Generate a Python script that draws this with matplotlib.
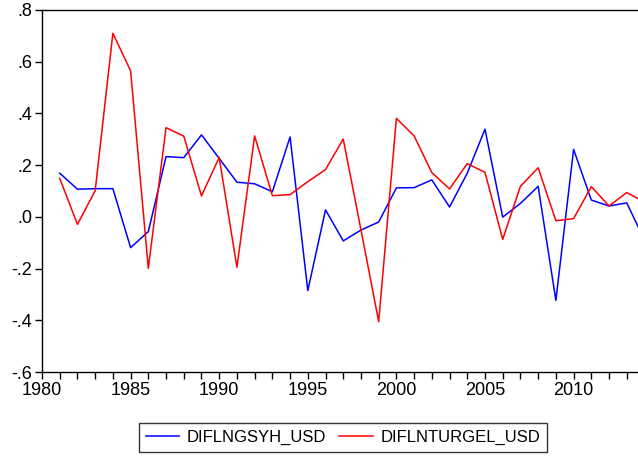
import matplotlib
matplotlib.use("Agg")
import matplotlib.pyplot as plt
from matplotlib.ticker import MultipleLocator, FuncFormatter

years = list(range(1981, 2015))
difln_gsyh = [0.169, 0.107, 0.109, 0.109, -0.119, -0.057, 0.233, 0.229, 0.317, 0.226,
              0.134, 0.128, 0.097, 0.309, -0.285, 0.027, -0.093, -0.051, -0.020, 0.112,
              0.113, 0.143, 0.038, 0.169, 0.339, -0.001, 0.052, 0.118, -0.323, 0.261,
              0.065, 0.042, 0.054, -0.090]
difln_turgel = [0.149, -0.029, 0.101, 0.710, 0.565, -0.199, 0.345, 0.312, 0.081, 0.230,
                -0.195, 0.313, 0.082, 0.086, 0.136, 0.183, 0.301, -0.050, -0.405, 0.381,
                0.313, 0.171, 0.108, 0.206, 0.172, -0.087, 0.118, 0.190, -0.015, -0.007,
                0.117, 0.042, 0.094, 0.057]

plt.rcParams['font.family'] = ['Liberation Sans', 'DejaVu Sans']

fig = plt.figure(figsize=(6.38, 4.57), dpi=100)
W, H = 638, 457
# right edge of the plot runs past the picture, as in the reference
x_end = 2014.5
x0, x1, y_top, y_bot = 42, 42 + (x_end - 1980) * 17.72, 10, 372
ax = fig.add_axes([x0 / W, 1 - y_bot / H, (x1 - x0) / W, (y_bot - y_top) / H])

ax.plot(years, difln_gsyh, color='#0000ff', lw=1.1, label='DIFLNGSYH_USD')
ax.plot(years, difln_turgel, color='#ff0000', lw=1.1, label='DIFLNTURGEL_USD')

ax.set_xlim(1980, x_end)
ax.set_ylim(-0.6, 0.8)
ax.xaxis.set_major_locator(MultipleLocator(5))
ax.xaxis.set_minor_locator(MultipleLocator(1))
ax.yaxis.set_major_locator(MultipleLocator(0.2))


def fmt_y(v, pos):
    s = f"{v:.1f}"
    if s in ("-0.0", "0.0"):
        return ".0"
    return s.replace("0.", ".")


ax.yaxis.set_major_formatter(FuncFormatter(fmt_y))
ax.tick_params(axis='both', which='major', labelsize=13, length=5, width=1, color='black')
ax.tick_params(axis='x', which='minor', length=5, width=1)
ax.tick_params(axis='y', pad=2)
ax.tick_params(axis='x', pad=2)
for side in ('left', 'bottom', 'top', 'right'):
    ax.spines[side].set_linewidth(1)
    ax.spines[side].set_color('black')

leg = fig.legend(loc='center', bbox_to_anchor=(343 / W, 1 - 437.5 / H), ncol=2,
                 fontsize=12, frameon=True, fancybox=False, edgecolor='black',
                 handlelength=2.0, columnspacing=0.8, borderpad=0.4,
                 handletextpad=0.45, borderaxespad=0)
leg.get_frame().set_linewidth(1)

fig.savefig('out.png', dpi=100)
